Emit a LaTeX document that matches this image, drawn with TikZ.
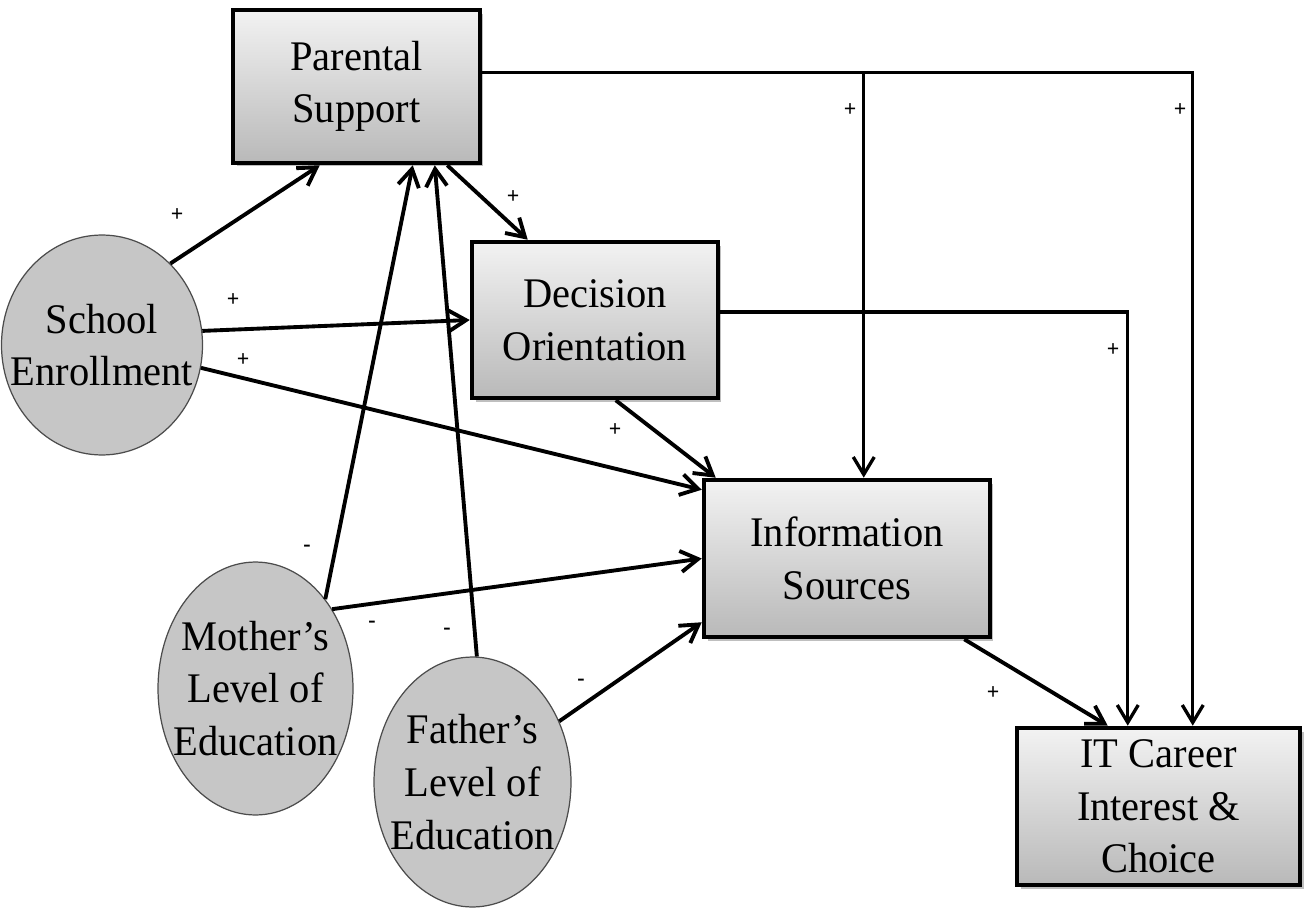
\documentclass[tikz,border=0pt]{standalone}
\usepackage{fontspec}
\setmainfont{Liberation Serif}[FakeStretch=0.96]
\usetikzlibrary{arrows.meta, shapes, shapes.geometric, calc, shadows}

\begin{document}
\begin{tikzpicture}[x=0.02cm, y=-0.02cm, font=\fontsize{24}{30}\selectfont,
  construct/.style={rectangle, draw=black, line width=2.6pt, top color=gray!10, bottom color=gray!55,
    align=center, drop shadow={shadow xshift=2pt, shadow yshift=-2pt, fill=gray, opacity=0.5}},
  factor/.style={ellipse, draw=gray!60!black, line width=0.7pt, fill=gray!45, align=center,
    inner xsep=-0.4cm, inner ysep=0pt},
  sign/.style={font=\fontsize{13}{13}\selectfont\bfseries, inner sep=0pt}]
\useasboundingbox (0,0) rectangle (1312,909);

\begin{scope}
  \node[construct, minimum width=4.94cm, minimum height=3.06cm] (ps) at (356.5,86.5) {Parental\\Support};
  \node[construct, minimum width=4.92cm, minimum height=3.12cm] (do) at (595,320) {Decision\\Orientation};
  \node[construct, minimum width=5.72cm, minimum height=3.14cm] (is) at (847,558.5) {Information\\Sources};
  \node[construct, minimum width=5.66cm, minimum height=3.14cm] (it) at (1158.5,806.5) {IT Career\\Interest \&\\Choice};
  \node[factor, minimum width=3.9cm, minimum height=4.4cm] (se) at (102,345) {School\\Enrollment};
  \node[factor, minimum width=3.9cm, minimum height=5.06cm] (me) at (255.5,688.5) {Mother’s\\Level of\\Education};
  \node[factor, minimum width=3.94cm, minimum height=5cm] (fe) at (472.5,782) {Father’s\\Level of\\Education};
\end{scope}

\coordinate (psout) at ($(ps.north east)+(0,65)$);
\coordinate (doout) at ($(do.east)+(0,-8)$);

\begin{scope}[>={Straight Barb[length=0.35cm, width=0.42cm]},
              every edge/.style={draw=black, line width=2.2pt}]
    \path [->] (se.50) edge ($(ps.south west)+(89,0)$);
    \path [->] (se.8) edge (do.west);
    \path [->] (se.-13) edge ($(is.north west)+(0,12)$);
    \path [->] (me.52) edge ($(ps.south west)+(182,0)$);
    \path [->] (fe.88) edge ($(ps.south west)+(204,0)$);
    \path [->] (me.46) edge (is.west);
    \path [->] (fe.35) edge ($(is.south west)+(0,-17)$);
    \path [->] ($(ps.south east)+(-35,0)$) edge ($(do.north west)+(58,0)$);
    \path [->] ($(do.south west)+(146,0)$) edge ($(is.north west)+(14,0)$);
    \path [->] ($(is.south east)+(-28,0)$) edge ($(it.north west)+(93,0)$);
    \draw [->, line width=1.9pt] (psout) -| ($(it.north west)+(178,0)$);
    \draw [->, line width=1.9pt] (psout) -| ($(is.north west)+(162,0)$);
    \draw [->, line width=1.9pt] (doout) -| ($(it.north west)+(113,0)$);
\end{scope}

\begin{scope}[every node/.style={sign}]
    \node (s1) at (177,215) {+};
    \node (s2) at (233,300) {+};
    \node (s3) at (243,360) {+};
    \node (s4) at (307,548) {-};
    \node (s5) at (372,624) {-};
    \node (s6) at (447,631) {-};
    \node (s7) at (581,682) {-};
    \node (s8) at (513,197) {+};
    \node (s9) at (615,430) {+};
    \node (s10) at (850,110) {+};
    \node (s11) at (1180,110) {+};
    \node (s12) at (1113,350) {+};
    \node (s13) at (993,693) {+};
\end{scope}

\end{tikzpicture}
\end{document}
